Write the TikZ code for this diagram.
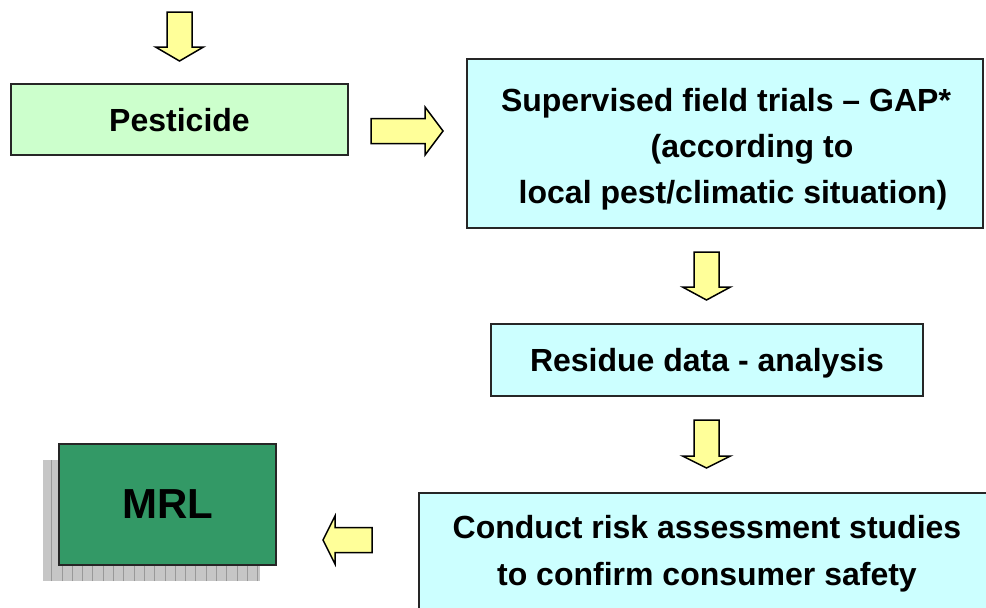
\documentclass[tikz,border=0pt]{standalone}
\usepackage{fontspec}
\setmainfont{Liberation Sans}
\definecolor{arrowyellow}{HTML}{FFFF99}
\definecolor{pestgreen}{HTML}{CCFFCC}
\definecolor{trialcyan}{HTML}{CCFFFF}
\definecolor{mrlgreen}{HTML}{339966}

\begin{document}
\begin{tikzpicture}[x=1pt,y=-1pt,
        box/.style={draw=black!85, line width=1.5pt, inner sep=0pt, text depth=0pt,
            font=\bfseries\fontsize{32}{46}\selectfont},
        boxlabel/.style={inner sep=0pt, align=center, font=\bfseries\fontsize{32}{46}\selectfont},
        arrowbody/.style={draw=black, line width=1.5pt, fill=arrowyellow, line join=miter},
        pics/blockarrow/.style n args={2}{code={
            \draw[arrowbody] (0,-12.5) -- ({#1-#2},-12.5) -- ({#1-#2},-24) -- (#1,0)
                -- ({#1-#2},24) -- ({#1-#2},12.5) -- (0,12.5) -- cycle;
        }}]
    \clip (0,0) rectangle (986,608);
    % boxes
    \node[box, fill=pestgreen, minimum width=337, minimum height=71] (pesticide) at (179.5,119.5) {Pesticide};
    \node[box, fill=trialcyan, minimum width=516, minimum height=169] (trials) at (725,143.5) {};
    \node[boxlabel] (trialstext) at (726,149) {Supervised field trials – GAP*\\
        \hspace*{52pt}(according to\\
        \hspace*{14pt}local pest/climatic situation)};
    \node[box, fill=trialcyan, minimum width=432, minimum height=72] (residue) at (707,360) {Residue data - analysis};
    \node[box, fill=trialcyan, minimum width=620, minimum height=170, anchor=north west] (risk) at (418,492) {};
    \node[boxlabel, font=\bfseries\fontsize{32}{47}\selectfont] (risktext) at (707,554) {Conduct risk assessment studies\\to confirm consumer safety};
    % shadow of the MRL box
    \fill[gray!45] (43,460) rectangle (260,581);
    \draw[gray!80, line width=0.6pt, step=10.3] (43,460) grid (260,581);
    \node[box, fill=mrlgreen, minimum width=217, minimum height=121, font=\bfseries\fontsize{42}{50}\selectfont] (mrl) at (167.5,504.5) {MRL};
    % block arrows
    \pic[rotate=-90] (arrowtop) at (179.5,12) {blockarrow={49}{14}};
    \pic (arrowright) at (371,131) {blockarrow={72}{18}};
    \pic[rotate=-90] (arrowtrials) at (706.5,252) {blockarrow={48}{13}};
    \pic[rotate=-90] (arrowresidue) at (706.5,420) {blockarrow={48}{12}};
    \pic[rotate=180] (arrowleft) at (372,540) {blockarrow={49}{12}};
\end{tikzpicture}
\end{document}
